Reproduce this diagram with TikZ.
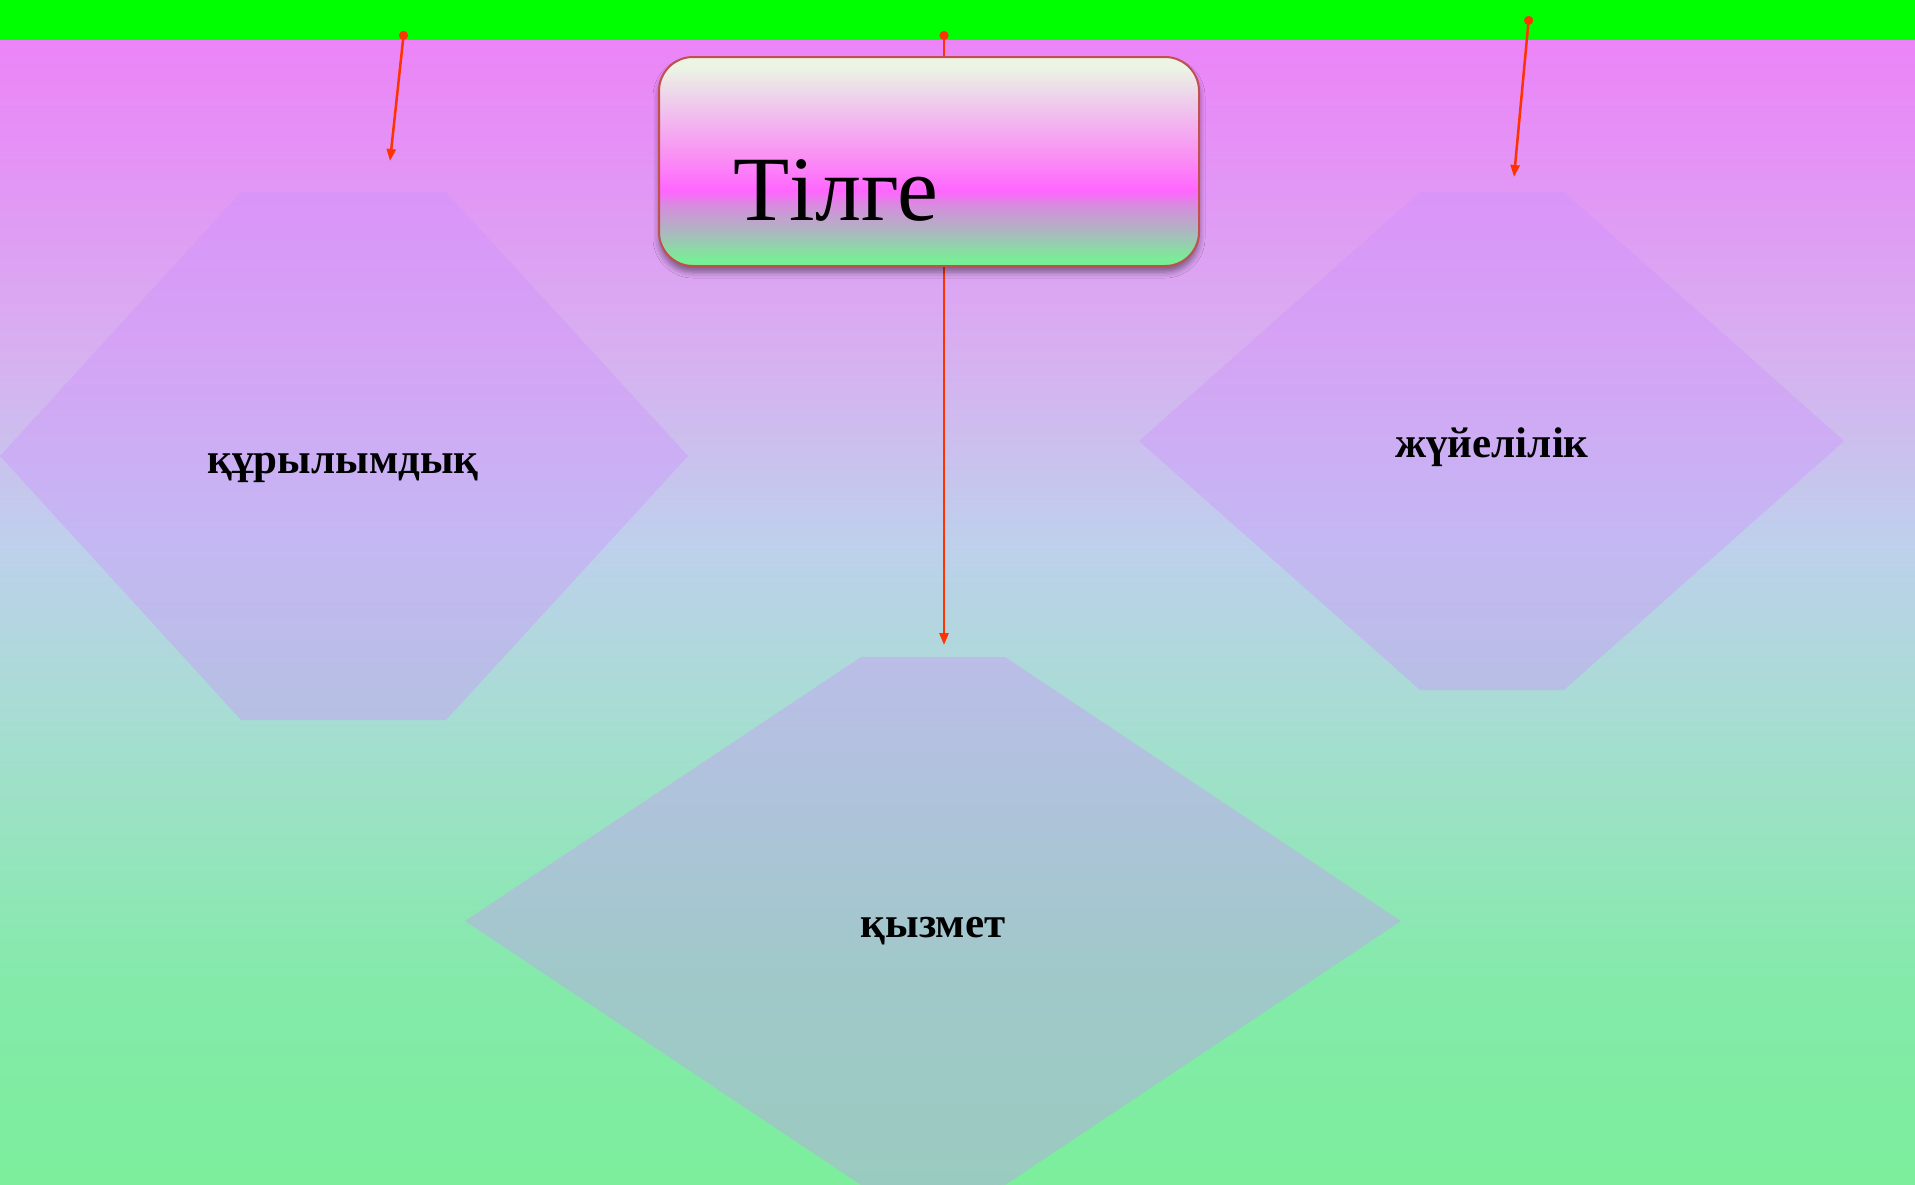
\documentclass[tikz,border=0pt]{standalone}
\usepackage{fontspec}
\setmainfont{Liberation Serif}
\usetikzlibrary{arrows.meta,shadows.blur}

\definecolor{barGreen}{RGB}{0,255,0}
\definecolor{arrowRed}{RGB}{255,51,0}
\definecolor{boxEdge}{RGB}{192,80,77}
\definecolor{hexViolet}{RGB}{208,144,255}
\definecolor{shadowViolet}{RGB}{110,40,130}
% fon (background) colours, bottom to top
\definecolor{fonA}{RGB}{124,238,156}
\definecolor{fonB}{RGB}{132,234,170}
\definecolor{fonC}{RGB}{165,222,208}
\definecolor{fonD}{RGB}{190,208,236}
\definecolor{fonE}{RGB}{214,178,240}
\definecolor{fonF}{RGB}{226,150,245}
\definecolor{fonG}{RGB}{236,132,248}
% title box colours, bottom to top
\definecolor{tbA}{RGB}{120,238,150}
\definecolor{tbB}{RGB}{170,185,190}
\definecolor{tbC}{RGB}{215,140,222}
\definecolor{tbD}{RGB}{255,102,255}
\definecolor{tbE}{RGB}{250,140,245}
\definecolor{tbF}{RGB}{244,172,240}
\definecolor{tbG}{RGB}{238,205,236}
\definecolor{tbH}{RGB}{236,244,228}

\pgfdeclareverticalshading{fonshade}{100bp}{color(0bp)=(fonA); color(25bp)=(fonA);
  color(34bp)=(fonB); color(44.7bp)=(fonC); color(53bp)=(fonD); color(60.75bp)=(fonE);
  color(68.75bp)=(fonF); color(75bp)=(fonG); color(100bp)=(fonG)}
\pgfdeclareverticalshading{titleshade}{100bp}{color(0bp)=(tbA); color(26.5bp)=(tbA);
  color(33bp)=(tbB); color(39.5bp)=(tbC); color(43bp)=(tbD); color(50.5bp)=(tbE);
  color(57.5bp)=(tbF); color(64.5bp)=(tbG); color(72.5bp)=(tbH); color(100bp)=(tbH)}

\begin{document}
\begin{tikzpicture}[x=0.5pt, y=-0.5pt,
    conn/.style={draw=arrowRed, line width=1.25pt,
      {Circle[length=4.5pt]}-{Triangle[length=6pt,width=4.5pt]}},
    hexa/.style={fill=hexViolet, fill opacity=0.37, draw=none},
    hexlabel/.style={font=\bfseries\fontsize{21.5}{24}\selectfont, inner sep=0pt}]
  \clip (0,0) rectangle (1915,1184);
  % fon
  \shade[shading=fonshade] (0,40) rectangle (1915,1184);
  \fill[barGreen] (0,0) rectangle (1915,40);
  % alty buryshty pishinder
  \fill[hexa] (241,192) -- (446,192) -- (688,456) -- (446,720) -- (241,720) -- (0,456) -- cycle;
  \fill[hexa] (1420,192) -- (1564,192) -- (1844,441) -- (1564,690) -- (1420,690) -- (1139,441) -- cycle;
  \fill[hexa] (861,657) -- (1005,657) -- (1401,921) -- (1005,1185) -- (861,1185) -- (465,921) -- cycle;
  \node[hexlabel] (qurylym) at (343,468) {құрылымдық};
  \node[hexlabel] (zhuie) at (1492,447) {жүйелілік};
  \node[hexlabel] (qyzmet) at (933,931) {қызмет};
  % bagyttaushy
  \coordinate (lsrc) at (404,31);  \coordinate (ltip) at (390,161);
  \coordinate (csrc) at (944,31);  \coordinate (ctip) at (944,645);
  \coordinate (rsrc) at (1529,16); \coordinate (rtip) at (1514,177);
  \draw[conn] (lsrc) -- (ltip);
  \draw[conn] (csrc) -- (ctip);
  \draw[conn] (rsrc) -- (rtip);
  % taqyryp
  \node[draw=boxEdge, line width=1pt, shading=titleshade, rounded corners=17pt,
        minimum width=270pt, minimum height=104.5pt,
        blur shadow={shadow xshift=0pt, shadow yshift=-3pt, shadow blur radius=3pt,
          shadow opacity=45, shadow blur steps=6, fill=shadowViolet}]
        (tilge) at (929,161.5) {};
  \node[anchor=base west, inner sep=0pt, font=\fontsize{46}{50}\selectfont]
        (tilgetext) at (733,220) {Тілге};
\end{tikzpicture}
\end{document}
